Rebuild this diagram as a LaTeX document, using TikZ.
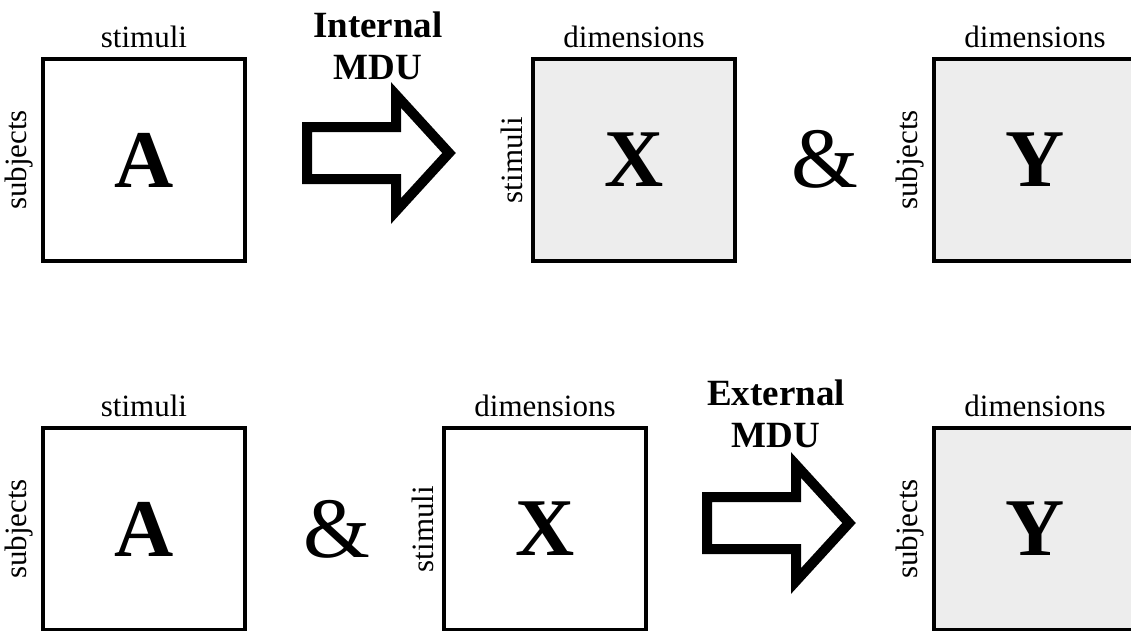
\documentclass[tikz,border=0pt]{standalone}
\usepackage{fontspec}
\setmainfont{Liberation Serif}
\usetikzlibrary{positioning}
\definecolor{mdugray}{gray}{0.93}

\begin{document}
\begin{tikzpicture}[x=1pt,y=-1pt,
  mat/.style={draw, line width=4pt, minimum size=202pt, inner sep=0pt,
    font=\fontsize{82}{82}\selectfont\bfseries},
  dimlab/.style={inner sep=0pt, font=\fontsize{31}{31}\selectfont},
  mdulab/.style={inner sep=0pt, align=center, font=\fontsize{37}{42}\selectfont\bfseries},
  amp/.style={inner sep=0pt, font=\fontsize{86}{86}\selectfont},
  fatarrow/.style={line width=10pt, line join=miter, miter limit=10}]
  \useasboundingbox (0,0) rectangle (1131,630);
  \clip (0,0) rectangle (1131,630);
  % 上行：A -> X & Y
  \node[mat] (A1) at (144,160) {A};
  \node[dimlab, above=9pt of A1] (A1top) {stimuli};
  \node[dimlab, rotate=90, anchor=south] (A1left) at ([xshift=-8pt]A1.west) {subjects};
  \node[mat, fill=mdugray] (X1) at (634,160) {X};
  \node[dimlab, above=9pt of X1] (X1top) {dimensions};
  \node[dimlab, rotate=90, anchor=south] (X1left) at ([xshift=-8pt]X1.west) {stimuli};
  \node[mat, fill=mdugray] (Y1) at (1035,160) {Y};
  \node[dimlab, above=9pt of Y1] (Y1top) {dimensions};
  \node[dimlab, rotate=90, anchor=south] (Y1left) at ([xshift=-8pt]Y1.west) {subjects};
  \node[amp, anchor=base] (and1) at (825,187) {\&};
  % Internal MDU 空心箭头
  \coordinate (in1) at (307,153);
  \draw[fatarrow] (in1) ++(0,-26) -- ++(89,0) -- ++(0,-32) -- ++(53,58)
    -- ++(-53,58) -- ++(0,-32) -- ++(-89,0) -- cycle;
  \node[mdulab, anchor=south] (intlab) at (378,80) {Internal\\MDU};
  % 下行：A & X -> Y
  \node[mat] (A2) at (144,529) {A};
  \node[dimlab, above=9pt of A2] (A2top) {stimuli};
  \node[dimlab, rotate=90, anchor=south] (A2left) at ([xshift=-8pt]A2.west) {subjects};
  \node[mat] (X2) at (545,529) {X};
  \node[dimlab, above=9pt of X2] (X2top) {dimensions};
  \node[dimlab, rotate=90, anchor=south] (X2left) at ([xshift=-8pt]X2.west) {stimuli};
  \node[mat, fill=mdugray] (Y2) at (1035,529) {Y};
  \node[dimlab, above=9pt of Y2] (Y2top) {dimensions};
  \node[dimlab, rotate=90, anchor=south] (Y2left) at ([xshift=-8pt]Y2.west) {subjects};
  \node[amp, anchor=base] (and2) at (337,557) {\&};
  % External MDU 空心箭头
  \coordinate (ex1) at (707,523);
  \draw[fatarrow] (ex1) ++(0,-26) -- ++(89,0) -- ++(0,-32) -- ++(53,58)
    -- ++(-53,58) -- ++(0,-32) -- ++(-89,0) -- cycle;
  \node[mdulab, anchor=south] (extlab) at (776,448) {External\\MDU};
\end{tikzpicture}
\end{document}
